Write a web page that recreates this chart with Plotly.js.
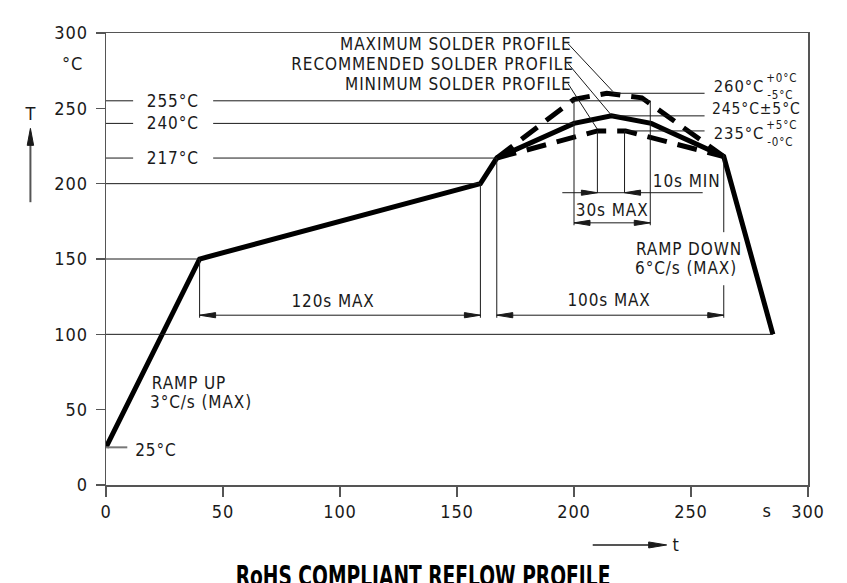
<!DOCTYPE html>
<html>
<head>
<meta charset="utf-8">
<script src="https://cdn.plot.ly/plotly-3.0.1.min.js"></script>
<style>
  html, body { margin: 0; padding: 0; background: #fff; }
  #chart { width: 847px; height: 583px; }
  .main-svg .annotation-text, .main-svg .xtick text, .main-svg .ytick text { letter-spacing: 0.9px; }
</style>
</head>
<body>
<div id="chart"></div>
<script>
// ---- data (time in s, temperature in °C) ----
const recTime = [0, 40, 160, 167, 200, 216, 233, 264, 285];
const recTemp = [25, 150, 200, 217, 240, 245, 240, 218, 100];
const maxTime = [167, 200, 214, 229, 264];
const maxTemp = [217, 256, 260, 257, 218];
const minTime = [167, 210, 222, 264];
const minTemp = [217, 235, 235, 218];

const xTicks = [0, 50, 100, 150, 200, 250, 300];
const yTicks = [0, 50, 100, 150, 200, 250, 300];

const leftRefTemps = [255, 240, 217];
const leftRefLabels = ['255°C', '240°C', '217°C'];
const leftRefEnds = [232.6, 200, 167];

const peakTemps = [260, 245, 235];
const peakLabels = ['260°C', '245°C±5°C', '235°C'];
const peakSup = ['+0°C', '', '+5°C'];
const peakSub = ['-5°C', '', '-0°C'];

const profileNames = ['MAXIMUM SOLDER PROFILE', 'RECOMMENDED SOLDER PROFILE', 'MINIMUM SOLDER PROFILE'];

const F = "'DejaVu Sans Condensed', 'Liberation Sans Narrow', 'DejaVu Sans', sans-serif";
const INK = '#1a1a1a';
const GREY = '#555';

// ---- helpers ----
const shapes = [];
function seg(x0, y0, x1, y1, opt) {
  opt = opt || {};
  shapes.push({type: 'line', xref: opt.ref ? 'paper' : 'x', yref: opt.ref ? 'paper' : 'y',
    x0, y0, x1, y1, line: {color: opt.color || INK, width: opt.width || 1}, layer: 'above'});
}
function head(x, y, dir, opt) {
  opt = opt || {};
  const L = opt.len || 16, W = opt.w || 2.6;
  let p;
  if (dir === 'r') p = `M0,0 L${-L},${W} L${-L},${-W} Z`;
  else if (dir === 'l') p = `M0,0 L${L},${W} L${L},${-W} Z`;
  else if (dir === 'u') p = `M0,0 L${-W},${-L} L${W},${-L} Z`;
  else p = `M0,0 L${-W},${L} L${W},${L} Z`;
  const c = opt.color || INK;
  shapes.push({type: 'path', xref: opt.ref ? 'paper' : 'x', yref: opt.ref ? 'paper' : 'y',
    xsizemode: 'pixel', ysizemode: 'pixel', xanchor: x, yanchor: y, path: p,
    fillcolor: c, line: {color: c, width: 1}, layer: 'above'});
}
const ann = [];
function txt(x, y, text, opt) {
  opt = opt || {};
  ann.push({x, y, xref: opt.ref ? 'paper' : 'x', yref: opt.ref ? 'paper' : 'y', text,
    showarrow: false, xanchor: opt.xa || 'center', yanchor: opt.ya || 'middle',
    font: {family: opt.family || F, size: opt.size || 17, color: opt.color || INK, weight: opt.weight || 'normal'}});
}

// ---- reference lines on the left ----
leftRefTemps.forEach((t, i) => {
  seg(0, t, 11.6, t);
  seg(45.8, t, leftRefEnds[i], t);
  txt(28.7, t, leftRefLabels[i]);
});
seg(0, recTemp[2], recTime[2], recTemp[2]);      // 200 line
seg(0, recTemp[1], recTime[1], recTemp[1]);      // 150 line
seg(0, recTemp[8], recTime[8], recTemp[8]);      // 100 line
seg(0, recTemp[0], 9.1, recTemp[0], {color: '#777', width: 2}); // 25 °C tick
txt(12.2, 23.5, '25°C', {xa: 'left'});

// ---- peak reference lines ----
seg(216.5, 260, 255.8, 260);
seg(216, 245, 255.8, 245);
seg(221.6, 235, 255.8, 235);
peakTemps.forEach((t, i) => {
  const yy = i === 0 ? 264.5 : (i === 1 ? 249.8 : 233.4);
  txt(260, yy, peakLabels[i], {xa: 'left', size: i === 1 ? 15.5 : 16.5});
  if (peakSup[i]) {
    txt(282.2, yy + 5.4, peakSup[i], {xa: 'left', size: 11.5});
    txt(282.4, yy - 5.6, peakSub[i], {xa: 'left', size: 11.5});
  }
});

// ---- 30s MAX box ----
seg(200, 255, 200, 172.4);
seg(232.6, 255, 232.6, 172.4);
seg(200, 174, 232.6, 174);
head(200, 174, 'l');
head(232.6, 174, 'r');
txt(216.3, 182.6, '30s MAX');

// ---- 10s MIN ----
seg(210, 235, 210, 194);
seg(221.6, 235, 221.6, 194);
seg(195, 194, 255, 194);
head(210, 194, 'r');
head(221.6, 194, 'l');
txt(234.3, 201.5, '10s MIN', {xa: 'left'});

// ---- lower dimensions ----
const dimY = 112.7;
seg(40, 150, 40, 111);
seg(160, 200, 160, 111);
seg(167, 217, 167, 111);
seg(264, 219.5, 264, 167.8);
seg(264, 132.6, 264, 111);
seg(40, dimY, 160, dimY);
seg(167, dimY, 264, dimY);
head(40, dimY, 'l'); head(160, dimY, 'r');
head(167, dimY, 'l'); head(264, dimY, 'r');
txt(97, 121.8, '120s MAX');
txt(214.8, 122.8, '100s MAX');

// ---- profile labels and leaders ----
const nameY = [292.4, 279.2, 265.9];
const leaderEnd = [[216.6, 261.2], [216, 245.4], [210, 236.1]];
profileNames.forEach((n, i) => {
  txt(195.6, nameY[i], n, {xa: 'right'});
  seg(197.4, nameY[i] + 0.6, leaderEnd[i][0], leaderEnd[i][1]);
});

// ---- ramp texts ----
txt(20.2, 67.6, 'RAMP UP', {xa: 'left'});
txt(20.2, 55.2, '3°C/s (MAX)', {xa: 'left'});
txt(227.2, 156.5, 'RAMP DOWN', {xa: 'left'});
txt(227.2, 143.9, '6°C/s (MAX)', {xa: 'left'});

// ---- axis unit labels and arrows (outside the plot, paper coords) ----
const P = v => v / 300;
txt(P(-14.5), P(279.8), '°C', {ref: true, size: 18});
txt(P(-32.3), P(246.9), 'T', {ref: true, size: 18});
seg(P(-32.3), P(187.7), P(-32.3), P(232), {ref: true, color: GREY, width: 2});
head(P(-32.3), P(236.7), 'u', {ref: true, color: INK, w: 3.2, len: 17});
txt(P(282.6), P(-16.6), 's', {ref: true, size: 18});
seg(P(208), P(-39.8), P(234), P(-39.8), {ref: true, color: GREY, width: 2});
head(P(239.6), P(-39.8), 'r', {ref: true, color: INK, w: 3, len: 18});
txt(P(243.6), P(-39.2), 't', {ref: true, size: 18});

// ---- title (cut at the bottom edge) ----
txt(0.4516, -0.162, 'RoHS COMPLIANT REFLOW PROFILE',
    {ref: true, ya: 'top', size: 28, weight: 'bold', color: '#000'});

// ---- traces ----
const traces = [
  {x: recTime, y: recTemp, mode: 'lines', line: {color: '#000', width: 5}, cliponaxis: false},
  {x: maxTime, y: maxTemp, mode: 'lines', line: {color: '#000', width: 5, dash: '20px,11px'}, cliponaxis: false},
  {x: minTime, y: minTemp, mode: 'lines', line: {color: '#000', width: 5, dash: '20px,11px'}, cliponaxis: false}
];

const axisCommon = {
  showgrid: false, zeroline: false, showline: true, mirror: true,
  linecolor: '#555', linewidth: 1.5, ticks: 'outside', tickcolor: '#555', tickwidth: 1.5,
  tickfont: {family: F, size: 18, color: INK}, fixedrange: true
};

const layout = {
  width: 847, height: 583,
  margin: {l: 106, r: 39, t: 33, b: 98},
  paper_bgcolor: '#fff', plot_bgcolor: '#fff',
  showlegend: false, hovermode: false,
  xaxis: Object.assign({}, axisCommon, {range: [0, 300], tickvals: xTicks, ticktext: xTicks.map(String), ticklen: 10}),
  yaxis: Object.assign({}, axisCommon, {range: [0, 300], tickvals: yTicks, ticktext: yTicks.map(String), ticklen: 9, ticklabelstandoff: 4}),
  shapes: shapes,
  annotations: ann
};

Plotly.newPlot('chart', traces, layout, {staticPlot: true, displayModeBar: false}).then(() => {
  document.querySelectorAll('.annotation-text').forEach(t => {
    if (t.textContent.indexOf('RoHS') === 0) {
      t.style.letterSpacing = '0px';
      const w = t.getBBox().width;
      const target = 375;
      const s = Math.min(1, target / w);
      const cx = parseFloat(t.getAttribute('x')) || 0;
      t.setAttribute('transform', `translate(${cx},0) scale(${s},1) translate(${-cx},0)`);
    }
  });
});
</script>
</body>
</html>
